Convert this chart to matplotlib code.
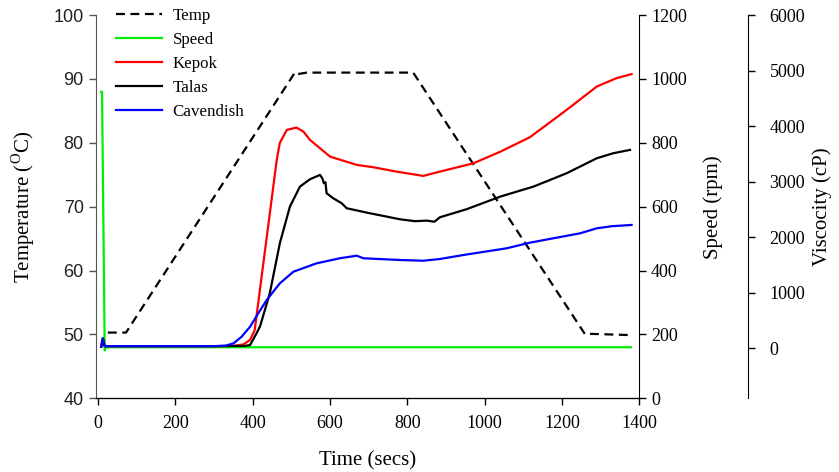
import matplotlib
matplotlib.use("Agg")
import matplotlib.pyplot as plt

plt.rcParams["font.family"] = ["Liberation Serif", "DejaVu Serif"]
plt.rcParams["mathtext.fontset"] = "custom"
plt.rcParams["mathtext.rm"] = "Liberation Serif"
plt.rcParams["font.size"] = 13

# RVA profile: temperature and paddle speed
t_temp = [25, 72, 510, 520, 540, 815, 1260, 1275, 1380]
temp = [50.3, 50.3, 91.1, 90.8, 91.0, 91.0, 50.0, 50.1, 49.9]

t_speed = [8, 10, 17, 20, 1378]
speed = [960, 960, 150, 160, 160]

# viscosity curves (cP)
t_kepok = [8, 12, 17, 25, 300, 350, 375, 393, 405, 420, 440, 462, 470, 488, 513, 531,
           548, 600, 669, 712, 772, 841, 884, 971, 1040, 1117, 1212, 1290, 1341, 1380]
v_kepok = [30, 180, 40, 40, 40, 45, 70, 150, 330, 1136, 2210, 3393, 3700, 3933, 3975, 3903,
           3753, 3452, 3303, 3261, 3182, 3105, 3182, 3333, 3540, 3802, 4294, 4714, 4865, 4937]

t_talas = [8, 12, 17, 25, 300, 380, 393, 410, 419, 444, 470, 496, 522, 548, 574, 580, 584,
           588, 591, 608, 630, 643, 695, 781, 820, 850, 870, 884, 953, 1040, 1126, 1212,
           1290, 1333, 1376]
v_talas = [30, 180, 40, 40, 40, 45, 60, 275, 400, 991, 1892, 2551, 2912, 3045, 3123, 3060, 2973,
           2990, 2793, 2703, 2613, 2523, 2444, 2324, 2290, 2300, 2280, 2360, 2505, 2732, 2912, 3153,
           3423, 3514, 3573]

t_cav = [8, 12, 17, 25, 300, 330, 350, 371, 393, 415, 436, 470, 505, 565, 625, 669, 686,
         781, 841, 884, 945, 1057, 1117, 1247, 1290, 1330, 1380]
v_cav = [30, 180, 40, 40, 40, 50, 90, 209, 390, 640, 870, 1171, 1380, 1531, 1622, 1669, 1622,
         1591, 1578, 1609, 1681, 1802, 1903, 2072, 2162, 2200, 2222]

fig = plt.figure(figsize=(8.39, 4.72), dpi=100)
ax = fig.add_axes([0.114, 0.156, 0.648, 0.812])
ax2 = ax.twinx()
ax3 = ax.twinx()
ax3.spines["right"].set_position(("axes", 1.2))

lw = 1.6
l_temp, = ax.plot(t_temp, temp, color="black", lw=lw, linestyle=(0, (4, 2.5)), label="Temp")
l_speed, = ax2.plot(t_speed, speed, color="#00ee00", lw=lw, label="Speed")
l_kep, = ax3.plot(t_kepok, v_kepok, color="#ff0000", lw=lw, label="Kepok")
l_tal, = ax3.plot(t_talas, v_talas, color="black", lw=lw, label="Talas")
l_cav, = ax3.plot(t_cav, v_cav, color="#0000ff", lw=lw, label="Cavendish")

ax.set_xlim(-6.5, 1400)
ax.set_ylim(40, 100)
ax2.set_ylim(0, 1200)
ax3.set_ylim(-900, 6000)

ax.set_xticks(range(0, 1401, 200))
ax.set_yticks(range(40, 101, 10))
ax2.set_yticks(range(0, 1201, 200))
ax3.set_yticks(range(0, 6001, 1000))

for a in (ax, ax2, ax3):
    a.spines["top"].set_visible(False)
    a.tick_params(direction="out", length=5, width=1)
ax2.spines["left"].set_visible(False)
ax3.spines["left"].set_visible(False)
ax.spines["right"].set_visible(False)
ax.spines["left"].set_color("#555555")
ax.tick_params(axis="y", colors="#555555", labelcolor="#222222")
for lab in ax.get_yticklabels():
    lab.set_family(["Liberation Sans", "DejaVu Sans"])
    lab.set_fontsize(13)
ax.tick_params(axis="x", colors="black", pad=7)
ax3.tick_params(axis="y", pad=10.5)

ax.set_xlabel("Time (secs)", fontsize=15, labelpad=14)
ax.set_ylabel("Temperature ($^{\\rm O}$C)", fontsize=15, labelpad=12)
ax2.set_ylabel("Speed (rpm)", fontsize=15, labelpad=12)
ax3.set_ylabel("Viscocity (cP)", fontsize=15, labelpad=5)

ax3.legend(handles=[l_temp, l_speed, l_kep, l_tal, l_cav], loc="upper left",
           bbox_to_anchor=(0.037, 1.018), frameon=False, borderpad=0, borderaxespad=0,
           handlelength=2.7, handletextpad=0.65, labelspacing=0.47, fontsize=12.2)

fig.savefig("out.png", dpi=100)
